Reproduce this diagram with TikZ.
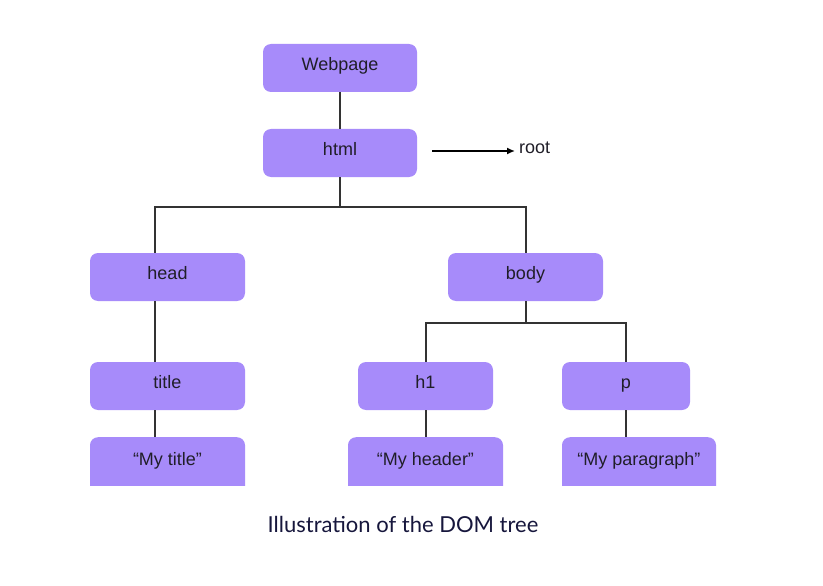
\documentclass[tikz,border=0pt]{standalone}
\usepackage{fontspec}
\setmainfont{Liberation Sans}
\newfontfamily\captionfont{Lato}
\usetikzlibrary{arrows.meta}
\definecolor{boxviolet}{RGB}{167,139,250}
\definecolor{linegray}{RGB}{51,51,51}
\definecolor{labelink}{RGB}{32,30,40}
\definecolor{captionnavy}{RGB}{22,22,60}

\begin{document}
\begin{tikzpicture}[x=1pt,y=-1pt]
\tikzstyle{label}=[inner sep=0pt, text height=11pt, text depth=6pt, text=labelink, font=\fontsize{18}{21}\selectfont];
\tikzstyle{box}=[label, fill=boxviolet, rounded corners=8pt, minimum height=48pt];
\tikzstyle{leaf}=[box, anchor=north, minimum height=0pt, text height=28pt, text depth=35pt];
\tikzstyle{link}=[draw=linegray, line width=2pt];
\useasboundingbox (0,0) rectangle (823,586);

% upper levels
\node[box, minimum width=154pt] (webpage) at (340,68) {Webpage};
\node[box, minimum width=154pt] (html) at (340,153) {html};
\node[box, minimum width=155pt] (head) at (167.5,277) {head};
\node[box, minimum width=155pt] (body) at (525.5,277) {body};
\node[box, minimum width=155pt] (title) at (167.5,386) {title};
\node[box, minimum width=135pt] (h1) at (425.5,386) {h1};
\node[box, minimum width=128pt] (p) at (626,386) {p};

% text leaves, cut off at the bottom
\begin{scope}
\clip (0,0) rectangle (823,485);
\node[leaf, minimum width=155pt] (mytitle) at (167.5,437) {“My title”};
\node[leaf, minimum width=155pt] (myheader) at (425.5,437) {“My header”};
\node[leaf, minimum width=154pt] (myparagraph) at (639,437) {“My paragraph”};
\end{scope}

% root marker
\coordinate (rootstart) at (432,151);
\node[label, anchor=west] (root) at (519,151) {root};
\draw[-{Latex[length=8pt,width=7pt]}, line width=1.5pt] (rootstart) -- ([xshift=-4pt]root.west);

% connectors
\coordinate (topbus) at (340,207);
\coordinate (bodybus) at (525.5,323);
\draw[link] (webpage) -- (html);
\draw[link] (html) -- (topbus);
\draw[link] ([xshift=-12.5pt]head.north) |- (topbus) -| (body.north);
\draw[link] (body) -- (bodybus);
\draw[link] (h1.north) |- (bodybus) -| (p.north);
\draw[link] ([xshift=-12.5pt]head.south) -- ([xshift=-12.5pt]title.north);
\draw[link] ([xshift=-12.5pt]title.south) -- ([xshift=-12.5pt]mytitle.north);
\draw[link] (h1.south) -- (myheader.north);
\draw[link] (p.south) -- (p.south |- myparagraph.north);

\node[font=\captionfont\fontsize{22}{26}\selectfont, text=captionnavy] (caption) at (403,524) {Illustration of the DOM tree};
\end{tikzpicture}
\end{document}
